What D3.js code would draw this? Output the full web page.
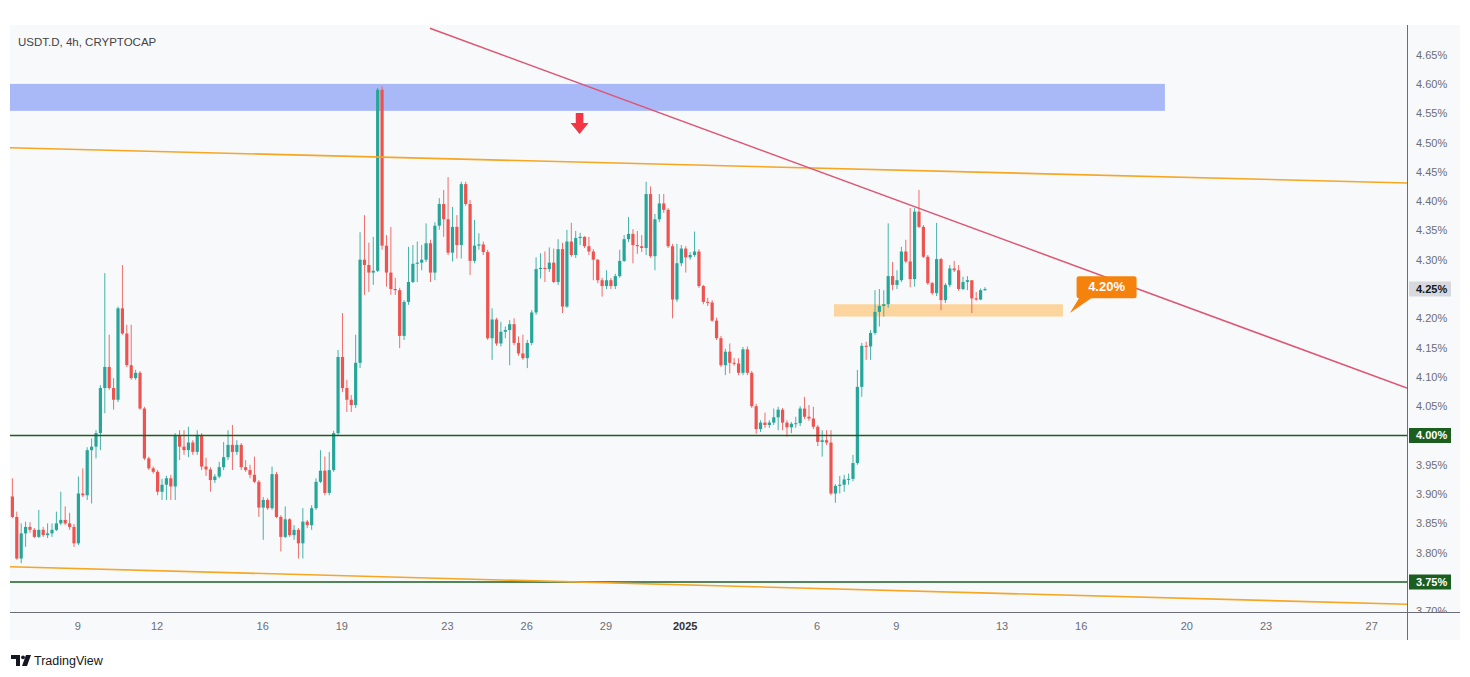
<!DOCTYPE html>
<html><head><meta charset="utf-8">
<script src="https://cdn.jsdelivr.net/npm/d3@7"></script>
<style>html,body{margin:0;padding:0;background:#fff;} svg{display:block;}</style>
</head><body>
<svg id="chart" width="1470" height="677"></svg>
<script>
// ---------------- DATA ----------------
const title = "USDT.D, 4h, CRYPTOCAP";
const firstBarTime = "2024-12-06T12:00:00Z";
const barHours = 4;
const opens = [3.896,3.861,3.790,3.833,3.844,3.839,3.827,3.839,3.830,3.833,3.839,3.850,3.856,3.850,3.844,3.816,3.901,3.898,3.975,3.981,
4.004,4.081,4.117,4.081,4.061,4.217,4.174,4.120,4.098,4.107,4.046,3.961,3.944,3.938,3.904,3.916,3.927,3.913,4.001,3.981,
3.975,3.988,3.972,4.001,3.947,3.942,3.924,3.930,3.946,3.963,3.984,3.972,3.984,3.946,3.941,3.933,3.921,3.877,3.890,3.876,
3.934,3.861,3.827,3.857,3.830,3.839,3.816,3.853,3.847,3.876,3.921,3.940,3.902,3.941,4.004,4.134,4.081,4.061,4.052,4.124,
4.300,4.291,4.278,4.281,4.590,4.324,4.278,4.250,4.248,4.170,4.228,4.262,4.293,4.295,4.300,4.328,4.278,4.358,4.395,4.369,
4.312,4.356,4.325,4.429,4.395,4.298,4.324,4.326,4.313,4.166,4.198,4.157,4.177,4.180,4.190,4.158,4.140,4.132,4.158,4.210,
4.284,4.286,4.284,4.295,4.262,4.318,4.220,4.331,4.308,4.337,4.339,4.323,4.314,4.300,4.265,4.255,4.265,4.255,4.272,4.298,
4.335,4.344,4.325,4.323,4.320,4.412,4.306,4.369,4.396,4.385,4.323,4.232,4.294,4.319,4.304,4.308,4.314,4.255,4.228,4.227,
4.196,4.166,4.120,4.143,4.124,4.123,4.107,4.147,4.107,4.050,4.011,4.022,4.018,4.022,4.031,4.044,4.022,4.014,4.020,4.021,
4.046,4.032,4.029,4.015,3.989,3.992,3.988,3.901,3.914,3.916,3.925,3.926,3.953,4.083,4.153,4.152,4.175,4.211,4.221,4.224,
4.272,4.257,4.265,4.314,4.297,4.267,4.382,4.356,4.305,4.260,4.243,4.301,4.231,4.257,4.285,4.282,4.250,4.262,4.265,4.234,
4.232,4.248];
const highs = [3.927,3.870,3.850,3.853,3.852,3.842,3.873,3.844,3.850,3.850,3.870,3.904,3.879,3.868,3.849,3.930,3.944,3.980,3.995,4.009,
4.086,4.277,4.172,4.098,4.220,4.291,4.189,4.189,4.112,4.110,4.049,3.964,3.947,3.941,3.926,3.931,3.933,4.004,4.009,4.009,
4.015,3.992,4.009,4.004,3.962,3.946,3.934,3.955,3.989,4.009,4.018,3.992,3.987,3.958,3.950,3.964,3.924,3.895,3.893,3.947,
3.938,3.864,3.879,3.859,3.847,3.842,3.876,3.856,3.881,3.927,3.975,3.964,3.972,4.008,4.146,4.209,4.095,4.069,4.172,4.347,
4.376,4.329,4.339,4.593,4.596,4.342,4.356,4.269,4.252,4.231,4.322,4.325,4.331,4.325,4.362,4.334,4.364,4.405,4.419,4.441,
4.390,4.376,4.433,4.433,4.402,4.368,4.345,4.331,4.317,4.217,4.201,4.194,4.186,4.197,4.200,4.169,4.172,4.163,4.214,4.304,
4.311,4.314,4.321,4.319,4.335,4.329,4.351,4.363,4.349,4.346,4.340,4.339,4.318,4.301,4.269,4.282,4.269,4.276,4.317,4.342,
4.373,4.352,4.349,4.342,4.433,4.425,4.378,4.412,4.412,4.388,4.327,4.327,4.325,4.323,4.313,4.348,4.318,4.257,4.235,4.231,
4.201,4.170,4.148,4.157,4.132,4.132,4.151,4.152,4.110,4.054,4.026,4.039,4.026,4.046,4.049,4.047,4.026,4.023,4.032,4.050,
4.066,4.052,4.049,4.018,4.009,4.009,4.009,3.917,3.931,3.933,3.935,3.967,4.112,4.158,4.160,4.180,4.248,4.250,4.248,4.362,
4.296,4.282,4.322,4.334,4.388,4.388,4.419,4.359,4.308,4.262,4.363,4.303,4.260,4.291,4.298,4.291,4.271,4.272,4.257,4.245,
4.251,4.253];
const lows = [3.859,3.788,3.782,3.810,3.834,3.825,3.825,3.827,3.825,3.827,3.837,3.847,3.847,3.839,3.810,3.813,3.895,3.890,3.884,3.961,
3.975,4.038,4.078,4.044,4.057,4.172,4.117,4.095,4.095,4.044,3.958,3.941,3.935,3.898,3.890,3.890,3.890,3.890,3.958,3.967,
3.963,3.967,3.967,3.941,3.931,3.904,3.919,3.927,3.941,3.958,3.941,3.967,3.941,3.938,3.927,3.919,3.861,3.822,3.873,3.873,
3.859,3.802,3.825,3.827,3.822,3.790,3.790,3.842,3.839,3.873,3.919,3.898,3.898,3.938,3.999,4.074,4.040,4.040,4.047,4.115,
4.240,4.245,4.257,4.279,4.317,4.254,4.240,4.240,4.149,4.163,4.223,4.260,4.262,4.282,4.296,4.262,4.265,4.351,4.339,4.308,
4.297,4.302,4.302,4.392,4.274,4.294,4.317,4.308,4.163,4.129,4.153,4.152,4.166,4.120,4.154,4.136,4.129,4.115,4.154,4.206,
4.268,4.262,4.279,4.260,4.257,4.209,4.218,4.305,4.303,4.325,4.320,4.308,4.265,4.260,4.237,4.250,4.250,4.250,4.269,4.296,
4.330,4.294,4.310,4.313,4.308,4.303,4.282,4.364,4.380,4.320,4.200,4.228,4.289,4.278,4.300,4.305,4.252,4.224,4.221,4.194,
4.163,4.117,4.103,4.106,4.119,4.103,4.103,4.103,4.047,4.003,4.006,4.013,4.013,4.018,4.009,4.009,3.998,4.004,4.013,4.016,
4.028,4.025,4.011,3.982,3.964,3.984,3.898,3.885,3.901,3.904,3.916,3.922,3.950,4.066,4.129,4.129,4.172,4.186,4.203,4.218,
4.248,4.250,4.262,4.294,4.253,4.254,4.354,4.303,4.257,4.240,4.238,4.214,4.226,4.253,4.279,4.247,4.248,4.248,4.209,4.230,
4.231,4.247];
const closes = [3.861,3.790,3.833,3.844,3.839,3.827,3.839,3.830,3.833,3.839,3.850,3.856,3.850,3.844,3.816,3.901,3.898,3.975,3.981,4.004,
4.081,4.117,4.081,4.061,4.217,4.174,4.120,4.098,4.107,4.046,3.961,3.944,3.938,3.904,3.916,3.927,3.913,4.001,3.981,3.975,
3.988,3.972,4.001,3.947,3.942,3.924,3.930,3.946,3.963,3.984,3.972,3.984,3.946,3.941,3.933,3.921,3.877,3.890,3.876,3.934,
3.861,3.827,3.857,3.830,3.839,3.816,3.853,3.847,3.876,3.921,3.940,3.902,3.941,4.004,4.134,4.081,4.061,4.052,4.124,4.300,
4.291,4.278,4.281,4.590,4.324,4.278,4.250,4.248,4.170,4.228,4.262,4.293,4.295,4.300,4.328,4.278,4.358,4.395,4.369,4.312,
4.356,4.325,4.429,4.395,4.298,4.324,4.326,4.313,4.166,4.198,4.157,4.177,4.180,4.190,4.158,4.140,4.132,4.158,4.210,4.284,
4.286,4.284,4.295,4.262,4.318,4.220,4.331,4.308,4.337,4.339,4.323,4.314,4.300,4.265,4.255,4.265,4.255,4.272,4.298,4.335,
4.344,4.325,4.323,4.320,4.412,4.306,4.369,4.396,4.385,4.323,4.232,4.294,4.319,4.304,4.308,4.314,4.255,4.228,4.227,4.196,
4.166,4.120,4.143,4.124,4.123,4.107,4.147,4.107,4.050,4.011,4.022,4.018,4.022,4.031,4.044,4.022,4.014,4.020,4.021,4.046,
4.032,4.029,4.015,3.989,3.992,3.988,3.901,3.914,3.916,3.925,3.926,3.953,4.083,4.153,4.152,4.175,4.211,4.221,4.224,4.272,
4.257,4.265,4.314,4.297,4.267,4.382,4.356,4.305,4.260,4.243,4.301,4.231,4.257,4.285,4.282,4.250,4.262,4.265,4.234,4.232,
4.248,4.250];

const priceTicks = [4.65,4.60,4.55,4.50,4.45,4.40,4.35,4.30,4.25,4.20,4.15,4.10,4.05,4.00,3.95,3.90,3.85,3.80,3.75,3.70];
const dateTicks = ["2024-12-09","2024-12-12","2024-12-16","2024-12-19","2024-12-23","2024-12-26","2024-12-29","2025-01-01",
                   "2025-01-06","2025-01-09","2025-01-13","2025-01-16","2025-01-20","2025-01-23","2025-01-27"];
const dateTickLabels = ["9","12","16","19","23","26","29","2025","6","9","13","16","20","23","27"];

const levelLines = [4.00, 3.75];
const lastPrice = 4.25;
const upperChannel = [["2024-12-06T10:50:00Z", 4.491], ["2025-01-28T08:30:00Z", 4.431]];
const lowerChannel = [["2024-12-06T10:50:00Z", 3.776], ["2025-01-28T08:30:00Z", 3.712]];
const downTrend    = [["2024-12-22T08:30:00Z", 4.695], ["2025-01-28T08:30:00Z", 4.081]];
const supplyZone   = {from: "2024-12-06T10:50:00Z", to: "2025-01-19T04:30:00Z", low: 4.554, high: 4.600};
const supportZone  = {from: "2025-01-06T15:40:00Z", to: "2025-01-15T07:50:00Z", low: 4.203, high: 4.224};
const calloutText  = "4.20%";
const calloutAt    = ["2025-01-16T23:30:00Z", 4.253];
const calloutTip   = ["2025-01-15T14:10:00Z", 4.209];
const arrowAt      = ["2024-12-28T00:30:00Z", 4.5145];

// ---------------- LAYOUT ----------------
const P = {l: 10, r: 1407, t: 25, b: 612};
const svg = d3.select("#chart");
const parse = s => new Date(s);
const x = d3.scaleUtc().domain([parse("2024-12-09T00:00:00Z"), parse("2025-01-27T00:00:00Z")]).range([77.3, 1371.2]);
const y = d3.scaleLinear().domain([3.70, 4.65]).range([611.3, 54.6]);

const UP = "#26a69a", DOWN = "#ef5350";
const FONT = "'Liberation Sans', Arial, sans-serif";

// panel background
svg.append("rect").attr("x", 10).attr("y", 25).attr("width", 1450).attr("height", 615).attr("fill", "#f8f9fb");

const defs = svg.append("defs");
defs.append("clipPath").attr("id", "plotClip").append("rect")
  .attr("x", P.l).attr("y", P.t).attr("width", P.r - P.l).attr("height", P.b - P.t);
defs.append("clipPath").attr("id", "yClip").append("rect")
  .attr("x", 0).attr("y", P.t).attr("width", 60).attr("height", P.b - P.t);

const plot = svg.append("g").attr("clip-path", "url(#plotClip)");

// zones
plot.append("rect")
  .attr("x", x(parse(supplyZone.from))).attr("width", x(parse(supplyZone.to)) - x(parse(supplyZone.from)))
  .attr("y", y(supplyZone.high)).attr("height", y(supplyZone.low) - y(supplyZone.high))
  .attr("fill", "#a9b9f7");
plot.append("rect")
  .attr("x", x(parse(supportZone.from))).attr("width", x(parse(supportZone.to)) - x(parse(supportZone.from)))
  .attr("y", y(supportZone.high)).attr("height", y(supportZone.low) - y(supportZone.high))
  .attr("fill", "#fbd59d");

// candles
const t0 = parse(firstBarTime).getTime();
const bars = opens.map((o, i) => ({t: new Date(t0 + i * barHours * 3600e3 + 3600e3), o, h: highs[i], l: lows[i], c: closes[i]}));
const cg = plot.append("g");
const bw = 3.2;
cg.selectAll("line.wick").data(bars).join("line")
  .attr("class", "wick")
  .attr("x1", d => x(d.t)).attr("x2", d => x(d.t))
  .attr("y1", d => y(d.h)).attr("y2", d => y(d.l))
  .attr("stroke", d => d.c >= d.o ? UP : DOWN).attr("stroke-width", 1).attr("stroke-opacity", 0.85);
cg.selectAll("rect.body").data(bars).join("rect")
  .attr("class", "body")
  .attr("x", d => x(d.t) - bw / 2).attr("width", bw)
  .attr("y", d => y(Math.max(d.o, d.c)))
  .attr("height", d => Math.max(1, Math.abs(y(d.o) - y(d.c))))
  .attr("fill", d => d.c >= d.o ? UP : DOWN);

// horizontal levels
plot.selectAll("line.level").data(levelLines).join("line")
  .attr("class", "level")
  .attr("x1", P.l).attr("x2", P.r).attr("y1", d => y(d)).attr("y2", d => y(d))
  .attr("stroke", "#1b5e20").attr("stroke-width", 1.5);

// trendlines
const seg = (pts, color, w) => plot.append("line")
  .attr("x1", x(parse(pts[0][0]))).attr("y1", y(pts[0][1]))
  .attr("x2", x(parse(pts[1][0]))).attr("y2", y(pts[1][1]))
  .attr("stroke", color).attr("stroke-width", w);
seg(upperChannel, "#f5a623", 1.6);
seg(lowerChannel, "#f5a623", 1.6);
seg(downTrend, "#dd5573", 1.5);

// down arrow
{
  const ax = x(parse(arrowAt[0])), ay = y(arrowAt[1]);
  plot.append("path")
    .attr("d", `M${ax},${ay} L${ax - 9},${ay - 11} L${ax - 3.8},${ay - 11} L${ax - 3.8},${ay - 21} L${ax + 3.8},${ay - 21} L${ax + 3.8},${ay - 11} L${ax + 9},${ay - 11} Z`)
    .attr("fill", "#f23645");
}

// callout
{
  const cx = x(parse(calloutAt[0])), cy = y(calloutAt[1]);
  const tx = x(parse(calloutTip[0])), ty = y(calloutTip[1]);
  const w = 60, h = 22;
  const g = svg.append("g");
  g.append("path")
    .attr("d", `M${cx - w / 2 + 3},${cy + h / 2 - 1} L${cx - w / 2 + 16},${cy + h / 2 - 1} L${tx},${ty} Z`)
    .attr("fill", "#f5820d");
  g.append("rect").attr("x", cx - w / 2).attr("y", cy - h / 2).attr("width", w).attr("height", h)
    .attr("rx", 2.5).attr("fill", "#f5820d");
  g.append("text").attr("x", cx).attr("y", cy + 0.5).attr("text-anchor", "middle").attr("dominant-baseline", "middle")
    .attr("font-family", FONT).attr("font-size", 13).attr("font-weight", "bold").attr("fill", "#fff")
    .text(calloutText);
}

// axes lines
svg.append("line").attr("x1", P.r + 0.5).attr("x2", P.r + 0.5).attr("y1", P.t).attr("y2", 640).attr("stroke", "#6a6d78").attr("stroke-width", 1);
svg.append("line").attr("x1", P.l).attr("x2", 1460).attr("y1", P.b + 0.5).attr("y2", P.b + 0.5).attr("stroke", "#6a6d78").attr("stroke-width", 1);

// y axis
const yAxis = svg.append("g").attr("transform", `translate(${P.r},0)`).attr("clip-path", "url(#yClip)")
  .call(d3.axisRight(y).tickValues(priceTicks).tickSize(0).tickPadding(9).tickFormat(d => d.toFixed(2) + "%"));
yAxis.select(".domain").remove();
yAxis.selectAll("text").attr("font-family", FONT).attr("font-size", 11).attr("fill", "#6a6d78");

// highlighted price labels
const badges = [{v: lastPrice, bg: "#d7d9de", fg: "#131722"}].concat(levelLines.map(v => ({v, bg: "#1b5e20", fg: "#ffffff"})));
badges.forEach(b => {
  yAxis.append("rect").attr("x", 2).attr("y", y(b.v) - 7.5).attr("width", 42).attr("height", 15).attr("fill", b.bg);
  yAxis.append("text").attr("x", 9).attr("y", y(b.v)).attr("dy", "0.32em")
    .attr("font-family", FONT).attr("font-size", 11).attr("font-weight", "bold").attr("fill", b.fg)
    .text(b.v.toFixed(2) + "%");
});

// x axis
const xAxis = svg.append("g").attr("transform", `translate(0,${P.b})`)
  .call(d3.axisBottom(x).tickValues(dateTicks.map(d => parse(d + "T00:00:00Z"))).tickSize(0).tickPadding(10)
    .tickFormat((d, i) => dateTickLabels[i]));
xAxis.select(".domain").remove();
xAxis.selectAll("text").attr("font-family", FONT).attr("font-size", 11).attr("fill", "#6a6d78")
  .filter((d, i) => dateTickLabels[i] === "2025").attr("font-weight", "bold").attr("fill", "#333");

// title
svg.append("text").attr("x", 18).attr("y", 46).attr("font-family", FONT).attr("font-size", 11.5).attr("fill", "#444")
  .text(title);

// TradingView logo
{
  const g = svg.append("g").attr("fill", "#131722");
  g.append("path").attr("d", "M11,655 H20 V666 H16 V659 H11 Z");
  g.append("circle").attr("cx", 23).attr("cy", 657.3).attr("r", 1.9);
  g.append("path").attr("d", "M26,655 H31 L27,666 H22 Z");
  g.append("text").attr("x", 34).attr("y", 664.5).attr("font-family", FONT).attr("font-size", 12.5).attr("fill", "#131722")
    .text("TradingView");
}
</script>
</body></html>
